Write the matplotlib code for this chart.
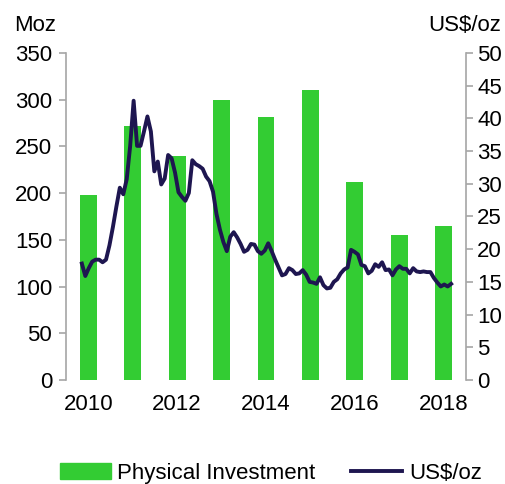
import matplotlib
matplotlib.use("Agg")
import matplotlib.pyplot as plt
from matplotlib.patches import Patch
from matplotlib.lines import Line2D

plt.rcParams['font.family'] = ['Liberation Sans', 'DejaVu Sans']
plt.rcParams['font.size'] = 16

# physical investment, Moz (annual)
years = [2010, 2011, 2012, 2013, 2014, 2015, 2016, 2017, 2018]
investment = [198, 272, 240, 300, 282, 310, 212, 155, 165]

# silver price, US$/oz (monthly averages, Jan 2010 - Dec 2018)
price_2010 = [17.8, 15.9, 17.1, 18.1, 18.4, 18.4, 18.0, 18.4, 20.6, 23.4, 26.5, 29.4]
price_2011 = [28.4, 30.7, 35.8, 42.7, 35.8, 35.8, 38.0, 40.3, 38.0, 31.9, 33.4, 29.9]
price_2012 = [30.8, 34.4, 33.9, 31.7, 28.7, 28.0, 27.4, 28.6, 33.6, 33.0, 32.7, 32.3]
price_2013 = [31.1, 30.4, 28.8, 25.4, 23.0, 21.1, 19.7, 21.9, 22.6, 21.8, 20.8, 19.6]
price_2014 = [19.9, 20.8, 20.7, 19.7, 19.3, 19.8, 20.9, 19.7, 18.4, 17.2, 16.0, 16.2]
price_2015 = [17.1, 16.8, 16.2, 16.3, 16.8, 16.1, 15.0, 14.9, 14.7, 15.7, 14.5, 14.0]
price_2016 = [14.1, 15.0, 15.4, 16.3, 16.9, 17.2, 19.9, 19.6, 19.2, 17.6, 17.4, 16.3]
price_2017 = [16.7, 17.7, 17.3, 18.0, 16.8, 16.9, 16.0, 16.9, 17.4, 17.0, 17.0, 16.3]
price_2018 = [17.1, 16.6, 16.5, 16.6, 16.5, 16.5, 15.6, 14.9, 14.3, 14.6, 14.3, 14.7]
prices = (price_2010 + price_2011 + price_2012 + price_2013 + price_2014
          + price_2015 + price_2016 + price_2017 + price_2018)

green = '#33cc33'
navy = '#1e1650'
grey = '#a6a6a6'

fig = plt.figure(figsize=(5.06, 4.84), dpi=100)
pos = [0.1304, 0.2149, 0.7905, 0.6756]
ax = fig.add_axes(pos)

x = list(range(len(years)))
ax.bar(x, investment, width=0.38, color=green, zorder=1)
ax.set_xlim(-0.5, len(years) - 0.5)
ax.set_ylim(0, 350)
ax.set_yticks(range(0, 351, 50))
ax.set_xticks(x[::2])
ax.set_xticklabels([str(y) for y in years[::2]])
ax.tick_params(axis='x', length=0, pad=10)
ax.tick_params(axis='y', color=grey, length=5, width=1.2, pad=5)
for s in ['top', 'right', 'bottom']:
    ax.spines[s].set_visible(False)
ax.spines['left'].set_color(grey)
ax.spines['left'].set_linewidth(1.2)

# line drawn on its own overlay axes (monthly x scale)
ax2 = fig.add_axes(pos)
ax2.patch.set_visible(False)
months = list(range(len(prices)))
ax2.plot(months, prices, color=navy, lw=2.8, zorder=3)
ax2.set_xlim(-4.6, 111.3)
ax2.set_ylim(0, 50)
ax2.set_yticks(range(0, 51, 5))
ax2.yaxis.tick_right()
ax2.xaxis.set_visible(False)
ax2.tick_params(axis='y', color=grey, length=5, width=1.2, pad=3)
for s in ['top', 'left', 'bottom']:
    ax2.spines[s].set_visible(False)
ax2.spines['right'].set_color(grey)
ax2.spines['right'].set_linewidth(1.2)

fig.text(0.028, 0.948, 'Moz', ha='left', va='center')
fig.text(0.846, 0.948, 'US$/oz', ha='left', va='center')

handles = [Patch(color=green, label='Physical Investment'),
           Line2D([], [], color=navy, lw=2.8, label='US$/oz')]
fig.legend(handles=handles, loc='center', bbox_to_anchor=(0.535, 0.022),
           ncol=2, frameon=False, handlelength=2.3, handletextpad=0.3,
           columnspacing=1.6, borderaxespad=0)

fig.savefig('out.png', dpi=100)
